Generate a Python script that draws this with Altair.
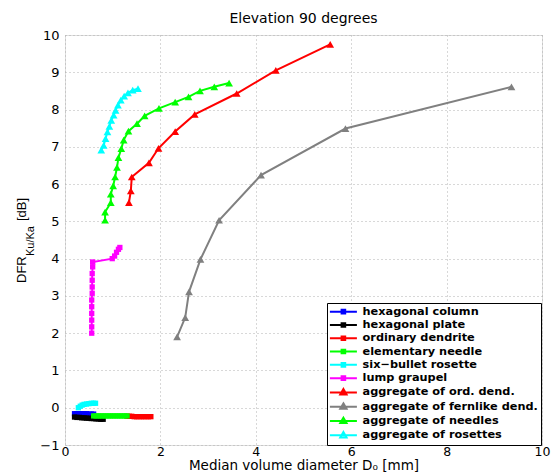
import altair as alt
import pandas as pd

series_names = [
    "hexagonal column", "hexagonal plate", "ordinary dendrite", "elementary needle",
    "six\u2212bullet rosette", "lump graupel", "aggregate of ord. dend.",
    "aggregate of fernlike dend.", "aggregate of needles", "aggregate of rosettes",
]
series_colors = ["#0000ff", "#000000", "#ff0000", "#00ff00", "#00ffff", "#ff00ff",
                 "#ff0000", "#808080", "#00ff00", "#00ffff"]
series_markers = ["square"] * 6 + ["triangle-up"] * 4

x_ticks = [0, 2, 4, 6, 8, 10]
y_ticks = [-1, 0, 1, 2, 3, 4, 5, 6, 7, 8, 9, 10]

hex_column_D = [0.20, 0.25, 0.30, 0.35, 0.40, 0.45, 0.50, 0.55, 0.60]
hex_column_dfr = [-0.16, -0.16, -0.16, -0.16, -0.16, -0.16, -0.17, -0.17, -0.17]

hex_plate_D = [0.20, 0.25, 0.30, 0.35, 0.40, 0.45, 0.50, 0.55, 0.60, 0.65, 0.70, 0.75, 0.80]
hex_plate_dfr = [-0.25, -0.26, -0.26, -0.27, -0.27, -0.28, -0.28, -0.29, -0.29, -0.30, -0.30, -0.31, -0.31]

ord_dendrite_D = [1.30, 1.35, 1.40, 1.45, 1.50, 1.55, 1.60, 1.65, 1.70, 1.75, 1.80]
ord_dendrite_dfr = [-0.23, -0.23, -0.23, -0.24, -0.24, -0.24, -0.24, -0.24, -0.24, -0.24, -0.24]

elem_needle_D = [0.60, 0.65, 0.70, 0.75, 0.80, 0.85, 0.90, 0.95, 1.00, 1.05, 1.10, 1.15, 1.20, 1.25, 1.30]
elem_needle_dfr = [-0.22, -0.22, -0.22, -0.22, -0.22, -0.22, -0.22, -0.22, -0.22, -0.22, -0.22, -0.22, -0.22, -0.22, -0.22]

six_bullet_D = [0.28, 0.32, 0.36, 0.40, 0.45, 0.50, 0.55, 0.60, 0.64]
six_bullet_dfr = [0.00, 0.04, 0.07, 0.09, 0.10, 0.11, 0.12, 0.12, 0.12]

graupel_D = [0.56, 0.56, 0.56, 0.56, 0.56, 0.56, 0.57, 0.57, 0.57, 0.57, 0.58, 0.58,
             0.99, 1.04, 1.08, 1.12, 1.15]
graupel_dfr = [2.00, 2.17, 2.35, 2.53, 2.71, 2.89, 3.07, 3.24, 3.42, 3.60, 3.78, 3.91,
               4.00, 4.07, 4.17, 4.25, 4.30]

agg_ord_D = [1.34, 1.38, 1.40, 1.76, 1.96, 2.31, 2.72, 3.60, 4.42, 5.56]
agg_ord_dfr = [5.50, 5.82, 6.19, 6.57, 6.96, 7.41, 7.87, 8.43, 9.05, 9.75]

agg_fern_D = [2.35, 2.52, 2.60, 2.84, 3.23, 4.11, 5.88, 9.36]
agg_fern_dfr = [1.90, 2.42, 3.11, 3.98, 5.03, 6.24, 7.49, 8.61]

agg_needle_D = [0.84, 0.84, 0.96, 0.96, 1.01, 1.05, 1.09, 1.12, 1.18, 1.23, 1.33, 1.51,
                1.67, 1.97, 2.31, 2.59, 2.83, 3.13, 3.44]
agg_needle_dfr = [5.03, 5.25, 5.50, 5.73, 5.95, 6.19, 6.45, 6.71, 6.95, 7.18, 7.42, 7.62,
                  7.83, 8.03, 8.20, 8.34, 8.50, 8.61, 8.71]

agg_rosette_D = [0.76, 0.81, 0.85, 0.89, 0.93, 0.97, 1.02, 1.06, 1.11, 1.17, 1.24, 1.32, 1.42, 1.53]
agg_rosette_dfr = [6.91, 7.04, 7.22, 7.40, 7.55, 7.71, 7.85, 7.98, 8.12, 8.25, 8.36, 8.45, 8.52, 8.56]

all_D = [hex_column_D, hex_plate_D, ord_dendrite_D, elem_needle_D, six_bullet_D,
         graupel_D, agg_ord_D, agg_fern_D, agg_needle_D, agg_rosette_D]
all_dfr = [hex_column_dfr, hex_plate_dfr, ord_dendrite_dfr, elem_needle_dfr, six_bullet_dfr,
           graupel_dfr, agg_ord_dfr, agg_fern_dfr, agg_needle_dfr, agg_rosette_dfr]

rows = []
for k, (name, marker) in enumerate(zip(series_names, series_markers)):
    for i, (d, v) in enumerate(zip(all_D[k], all_dfr[k])):
        rows.append({"series": name, "D": d, "DFR": v, "idx": i, "marker": marker})
df = pd.DataFrame(rows)

legend_paths = []
for m in series_markers:
    if m == "square":
        legend_paths.append("M-3,0H3M-0.4,-0.4H0.4V0.4H-0.4Z")
    else:
        legend_paths.append("M-3,0H3M0,-0.75L0.7,0.45H-0.7Z")

FONT = "DejaVu Sans"
YFONT = "Liberation Sans"


def cscale():
    return alt.Scale(domain=series_names, range=series_colors)


x_axis = alt.Axis(values=x_ticks, title="Median volume diameter D\u2080 [mm]",
                  grid=True, gridDash=[1, 3], gridColor="#b0b0b0", ticks=False, domain=False,
                  labelFont=FONT, labelFontSize=12.5, labelColor="black", labelPadding=0,
                  titleFont=FONT, titleFontSize=13.5, titleFontWeight="normal",
                  titleColor="black", titlePadding=1, labelFlush=False, labelOverlap=False)
y_axis = alt.Axis(values=y_ticks, title=None,
                  grid=True, gridDash=[1, 3], gridColor="#b0b0b0", ticks=False, domain=False,
                  labelFont=FONT, labelFontSize=13, labelColor="black", labelPadding=6,
                  labelFlush=False, labelOverlap=False)

x_scale = alt.Scale(domain=[0, 10], nice=False)
y_scale = alt.Scale(domain=[-1, 10], nice=False)


def xe():
    return alt.X("D:Q", scale=x_scale, axis=x_axis)


def ye():
    return alt.Y("DFR:Q", scale=y_scale, axis=y_axis)


base = alt.Chart(df)

lines = base.mark_line(strokeWidth=2, clip=True).encode(
    x=xe(), y=ye(),
    color=alt.Color("series:N", scale=cscale(), legend=None),
    detail="series:N",
    order=alt.Order("idx:Q"),
)

squares = base.transform_filter(alt.datum.marker == "square").mark_point(
    filled=True, opacity=1, size=28, shape="square").encode(
    x=xe(), y=ye(),
    color=alt.Color("series:N", scale=cscale(), legend=None),
)

triangles = base.transform_filter(alt.datum.marker == "triangle-up").mark_point(
    filled=True, opacity=1, size=60, shape="triangle-up").encode(
    x=xe(), y=ye(),
    color=alt.Color("series:N", scale=cscale(), legend=None),
)

legend_props = dict(
    title=None, orient="none", legendX=262, legendY=268,
    padding=3, strokeColor="black", fillColor="white",
    labelFont=FONT, labelFontWeight="bold", labelFontSize=11.3,
    labelColor="black", symbolSize=81, symbolStrokeWidth=2,
    symbolOffset=7.75, labelOffset=13.5, rowPadding=0.3,
    labelLimit=300,
)

legend_layer = base.transform_filter("false").mark_point(
    filled=False, opacity=1, strokeWidth=2).encode(
    x=xe(), y=ye(),
    color=alt.Color("series:N", scale=cscale(), legend=alt.Legend(**legend_props)),
    shape=alt.Shape("series:N", scale=alt.Scale(domain=series_names, range=legend_paths),
                    legend=alt.Legend(**legend_props)),
)

ylab_df = pd.DataFrame({"main": ["DFR"], "sub": ["Ku/Ka"], "unit": ["[dB]"]})
ylab_main = alt.Chart(ylab_df).mark_text(
    angle=270, align="left", baseline="middle", font=YFONT, fontSize=13, color="black").encode(
    text="main:N", x=alt.value(-43), y=alt.value(248))
ylab_sub = alt.Chart(ylab_df).mark_text(
    angle=270, align="left", baseline="middle", font=YFONT, fontSize=11, color="black").encode(
    text="sub:N", x=alt.value(-34), y=alt.value(221))
ylab_unit = alt.Chart(ylab_df).mark_text(
    angle=270, align="left", baseline="middle", font=YFONT, fontSize=13, color="black").encode(
    text="unit:N", x=alt.value(-43), y=alt.value(186))

chart = alt.layer(lines, squares, triangles, legend_layer, ylab_main, ylab_sub, ylab_unit).resolve_scale(
    color="independent", shape="independent"
).properties(
    width=477, height=410,
    title=alt.Title("Elevation 90 degrees", font=FONT, fontSize=14, fontWeight="normal",
                    color="black", offset=3),
    padding={"left": 65, "top": 35, "right": 14, "bottom": 30},
    autosize=alt.AutoSizeParams(type="none"),
).configure_view(stroke="#333333", strokeWidth=1).configure_axis(
    labelOverlap=False
).configure(background="white")

chart.save("out.html", embed_options={"renderer": "svg", "actions": False})
